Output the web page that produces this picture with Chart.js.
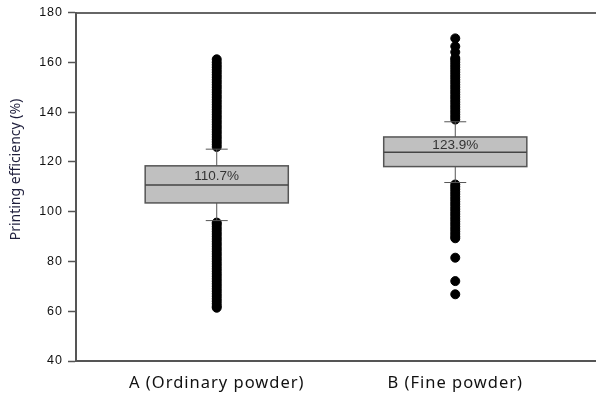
<!DOCTYPE html>
<html>
<head>
<meta charset="utf-8">
<script src="https://cdn.jsdelivr.net/npm/chart.js@4/dist/chart.umd.min.js"></script>
<style>
  html, body { margin: 0; padding: 0; background: #fff; }
  #wrap { width: 596px; height: 394px; }
</style>
</head>
<body>
<div id="wrap"><canvas id="c" width="596" height="394"></canvas></div>
<script>
// Powder groups on the x axis (placed at 1 and 2)
const categories = ['A (Ordinary powder)', 'B (Fine powder)'];
const positions = [1, 2];
const yTitle = 'Printing efficiency (%)';

// Box statistics (printing efficiency, %)
const q1 = [103.5, 118.1];
const medians = [110.7, 123.9];
const q3 = [118.4, 130.0];
const whiskerLow = [96.4, 111.7];
const whiskerHigh = [125.1, 136.1];

// Outliers above / below the whiskers
const outliersAHigh = [126, 127, 128, 129, 130, 131, 132, 133, 134, 135, 136, 137, 138, 139, 140, 141, 142,
  143, 144, 145, 146, 147, 148, 149, 150, 151, 152, 153, 154, 155, 156, 157, 158, 159, 160, 161.2];
const outliersALow = [95.6, 95, 94, 93, 92, 91, 90, 89, 88, 87, 86, 85, 84, 83, 82, 81, 80, 79, 78, 77, 76,
  75, 74, 73, 72, 71, 70, 69, 68, 67, 66, 65, 64, 63, 62, 61.4];
const outliersBHigh = [137, 138, 139, 140, 141, 142, 143, 144, 145, 146, 147, 148, 149, 150, 151, 152, 153,
  154, 155, 156, 157, 158, 159, 160, 161, 161.7, 164.1, 166.4, 169.6];
const outliersBLow = [110.9, 110, 109, 108, 107, 106, 105, 104, 103, 102, 101, 100, 99, 98, 97, 96, 95, 94,
  93, 92, 91, 90, 89.3, 81.5, 72.1, 66.8];

// y-axis ticks
const yMin = 40, yMax = 180, yStep = 20;

const toPoints = (xv, arr) => arr.map(v => ({ x: xv, y: v }));

// Slightly wider tracking for the axis texts
const spacingPlugin = {
  id: 'spacing',
  beforeDraw(chart) { chart.ctx.letterSpacing = '1px'; },
  afterDraw(chart) { chart.ctx.letterSpacing = '0px'; }
};

// Boxes, whiskers and median labels, placed through the chart scales
const boxPlugin = {
  id: 'boxes',
  afterDatasetsDraw(chart) {
    const { ctx, scales: { x, y } } = chart;
    const half = 0.3, cap = 0.046;
    ctx.save();
    ctx.letterSpacing = '0px';
    positions.forEach((p, i) => {
      const xl = x.getPixelForValue(p - half);
      const xr = x.getPixelForValue(p + half);
      const xc = x.getPixelForValue(p);
      const yTop = y.getPixelForValue(q3[i]);
      const yBot = y.getPixelForValue(q1[i]);
      const yMed = y.getPixelForValue(medians[i]);
      const yWH = y.getPixelForValue(whiskerHigh[i]);
      const yWL = y.getPixelForValue(whiskerLow[i]);
      const cl = x.getPixelForValue(p - cap);
      const cr = x.getPixelForValue(p + cap);

      ctx.strokeStyle = '#555';
      ctx.lineWidth = 1;
      ctx.beginPath();
      ctx.moveTo(xc, yTop); ctx.lineTo(xc, yWH);
      ctx.moveTo(xc, yBot); ctx.lineTo(xc, yWL);
      ctx.moveTo(cl, yWH); ctx.lineTo(cr, yWH);
      ctx.moveTo(cl, yWL); ctx.lineTo(cr, yWL);
      ctx.stroke();

      ctx.fillStyle = '#c0c0c0';
      ctx.fillRect(xl, yTop, xr - xl, yBot - yTop);
      ctx.strokeStyle = '#555';
      ctx.lineWidth = 1.5;
      ctx.strokeRect(xl, yTop, xr - xl, yBot - yTop);

      ctx.strokeStyle = '#444';
      ctx.beginPath();
      ctx.moveTo(xl, yMed); ctx.lineTo(xr, yMed);
      ctx.stroke();

      ctx.fillStyle = '#333';
      ctx.font = '13.5px "Liberation Sans", Arial, sans-serif';
      ctx.textAlign = 'center';
      ctx.textBaseline = 'middle';
      ctx.fillText(medians[i].toFixed(1) + '%', xc, (yTop + yMed) / 2 + 0.5);
    });
    ctx.restore();
  }
};

// Rotated y-axis title
const yTitlePlugin = {
  id: 'yTitle',
  afterDraw(chart) {
    const { ctx, chartArea } = chart;
    ctx.save();
    ctx.letterSpacing = '0px';
    ctx.translate(16, chartArea.top + 157);
    ctx.rotate(-Math.PI / 2);
    ctx.fillStyle = '#1e1e3c';
    ctx.font = '14px "Noto Sans", "Open Sans", sans-serif';
    ctx.textAlign = 'center';
    ctx.textBaseline = 'middle';
    ctx.fillText(yTitle, 0, 0);
    ctx.restore();
  }
};

const dotStyle = {
  type: 'scatter',
  pointRadius: 4.5,
  pointBorderWidth: 1,
  pointBackgroundColor: '#000',
  pointBorderColor: '#000',
  showLine: false
};

new Chart(document.getElementById('c'), {
  type: 'scatter',
  data: {
    datasets: [
      { ...dotStyle, data: toPoints(positions[0], outliersAHigh) },
      { ...dotStyle, data: toPoints(positions[0], outliersALow) },
      { ...dotStyle, data: toPoints(positions[1], outliersBHigh) },
      { ...dotStyle, data: toPoints(positions[1], outliersBLow) }
    ]
  },
  options: {
    responsive: false,
    animation: false,
    events: [],
    layout: { autoPadding: false, padding: { top: 11, right: 0, left: 0, bottom: 0 } },
    plugins: { legend: { display: false }, tooltip: { enabled: false } },
    scales: {
      x: {
        type: 'linear',
        position: 'bottom',
        min: 0.41,
        max: 2.59,
        afterBuildTicks: s => { s.ticks = positions.map(v => ({ value: v })); },
        afterFit: s => { s.height = 33; },
        ticks: {
          callback: v => categories[positions.indexOf(v)],
          color: '#111',
          font: { family: '"Noto Sans", "Open Sans", sans-serif', size: 16.5 },
          padding: 12,
          maxRotation: 0
        },
        grid: { display: false, drawTicks: false },
        border: { display: true, color: '#555', width: 2 }
      },
      xTop: {
        type: 'linear',
        position: 'top',
        afterFit: s => { s.height = 0; },
        ticks: { display: false },
        grid: { display: false, drawTicks: false },
        border: { display: true, color: '#666', width: 2 }
      },
      y: {
        min: yMin,
        max: yMax,
        afterFit: s => { s.width = 76; },
        ticks: {
          stepSize: yStep,
          color: '#111',
          font: { family: '"Liberation Sans", Arial, sans-serif', size: 12.5 },
          padding: 5
        },
        grid: { drawOnChartArea: false, drawTicks: true, tickLength: 8, tickColor: '#555', tickWidth: 1.5 },
        border: { display: true, color: '#555', width: 2 }
      }
    }
  },
  plugins: [spacingPlugin, boxPlugin, yTitlePlugin]
});
</script>
</body>
</html>
